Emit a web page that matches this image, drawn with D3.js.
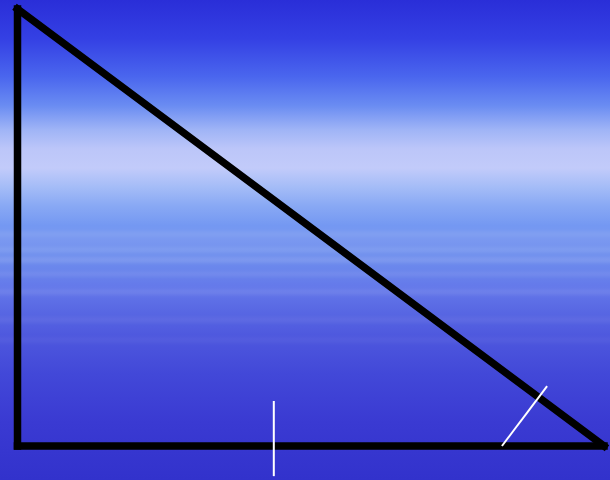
<!DOCTYPE html>
<html><head><meta charset="utf-8">
<script src="https://cdn.jsdelivr.net/npm/d3@7/dist/d3.min.js"></script>
<style>html,body{margin:0;padding:0;overflow:hidden;background:#3030c8}</style>
</head><body>
<svg id="c" width="610" height="480"></svg>
<script>
// Triangle vertices in data units
const vertexNames = ["A", "B", "C"];
const vertexX = [0, 0, 100];
const vertexY = [100, 0, 0];
// Tick marks (white) as segments [x1, y1, x2, y2]
const markX1 = [43.7, 82.6];
const markY1 = [-6.9, 0];
const markX2 = [43.7, 90.3];
const markY2 = [10.3, 13.7];
// Background gradient stops (offset in %, colour)
const bgOffsets = [0, 8, 16, 22, 27, 31, 35, 39, 43, 47, 50, 53, 56, 60, 64, 70, 78, 88, 100];
const bgColors = ["#2a2ed8", "#3440e4", "#4a66ee", "#6a8cf2", "#9fb4f6", "#bcc6f9", "#c2cbfa", "#a4bcf7", "#88a8f4", "#7498f2", "#7a98f0", "#7090ee", "#6a86ec", "#6478ea", "#5a6ae4", "#4e58de", "#4248d8", "#3a3ad2", "#3232cc"];
// Faint horizontal streaks (y in px, opacity)
const streakY = [232, 248, 258, 272, 290, 318, 338];
const streakOp = [0.10, 0.12, 0.16, 0.10, 0.12, 0.08, 0.06];

const W = 610, H = 480;
const svg = d3.select("#c");
const defs = svg.append("defs");
const grad = defs.append("linearGradient").attr("id", "bg").attr("x1", 0).attr("y1", 0).attr("x2", 0).attr("y2", 1);
grad.selectAll("stop").data(bgOffsets).join("stop")
  .attr("offset", d => d + "%")
  .attr("stop-color", (d, i) => bgColors[i]);
defs.append("filter").attr("id", "blur").attr("x", "-5%").attr("y", "-200%").attr("width", "110%").attr("height", "500%")
  .append("feGaussianBlur").attr("stdDeviation", "6 2");
svg.append("rect").attr("width", W).attr("height", H).attr("fill", "url(#bg)");
svg.append("g").attr("filter", "url(#blur)").selectAll("rect").data(streakY).join("rect")
  .attr("x", -20).attr("y", d => d).attr("width", W + 40).attr("height", 4)
  .attr("fill", "#fff").attr("opacity", (d, i) => streakOp[i]);

const x = d3.scaleLinear().domain([0, 100]).range([17.5, 604]);
const y = d3.scaleLinear().domain([0, 100]).range([446, 9]);

const verts = vertexNames.map((n, i) => ({n, x: vertexX[i], y: vertexY[i]}));
const edges = [[0, 1], [1, 2], [2, 0]];
svg.append("g").selectAll("line").data(edges).join("line")
  .attr("x1", d => x(verts[d[0]].x)).attr("y1", d => y(verts[d[0]].y))
  .attr("x2", d => x(verts[d[1]].x)).attr("y2", d => y(verts[d[1]].y))
  .attr("stroke", "#000").attr("stroke-width", 7.5).attr("stroke-linecap", "square");

svg.append("g").selectAll("line").data(markX1).join("line")
  .attr("x1", (d, i) => x(markX1[i])).attr("y1", (d, i) => y(markY1[i]))
  .attr("x2", (d, i) => x(markX2[i])).attr("y2", (d, i) => y(markY2[i]))
  .attr("stroke", "#fff").attr("stroke-width", 2);
</script>
</body></html>
